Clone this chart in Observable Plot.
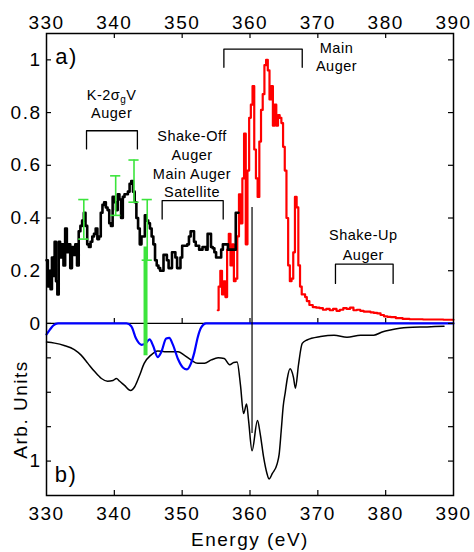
<!DOCTYPE html>
<html><head><meta charset="utf-8">
<script src="https://cdn.jsdelivr.net/npm/d3@7"></script>
<script src="https://cdn.jsdelivr.net/npm/@observablehq/plot@0.6"></script>
<style>
body{margin:0;background:#fff;}
#chart svg{display:block}
g.ann{letter-spacing:0.5px}
</style></head><body><div id="chart"></div>
<script>
// ---- data ----
// panel a) black step spectrum: [energy eV, intensity]
const augerBlack = [[330.0,0.24],[330.2,0.14],[330.4,0.20],[330.6,0.13],[330.8,0.25],[331.0,0.18],[331.2,0.31],[331.4,0.16],[331.6,0.11],[331.8,0.31],[332.0,0.25],[332.25,0.30],[332.5,0.22],[332.75,0.36],[333.0,0.27],[333.25,0.30],[333.5,0.21],[333.75,0.29],[334.0,0.26],[334.25,0.30],[334.5,0.22],[334.75,0.35],[335.0,0.37],[335.25,0.39],[335.5,0.42],[335.75,0.37],[336.0,0.30],[336.25,0.29],[336.5,0.31],[336.75,0.33],[337.0,0.34],[337.25,0.36],[337.5,0.32],[337.75,0.33],[338.0,0.42],[338.25,0.45],[338.5,0.46],[338.75,0.44],[339.0,0.43],[339.25,0.38],[339.5,0.37],[339.75,0.48],[340.0,0.46],[340.25,0.43],[340.5,0.49],[340.75,0.47],[341.0,0.40],[341.25,0.48],[341.5,0.49],[341.75,0.49],[342.0,0.50],[342.25,0.53],[342.5,0.54],[342.75,0.50],[343.0,0.46],[343.25,0.40],[343.5,0.36],[343.75,0.30],[344.0,0.33],[344.25,0.33],[344.5,0.41],[344.75,0.39],[345.0,0.38],[345.25,0.36],[345.5,0.33],[345.75,0.30],[346.0,0.24],[346.25,0.22],[346.5,0.21],[346.75,0.20],[347.0,0.20],[347.25,0.26],[347.5,0.26],[347.75,0.24],[348.0,0.21],[348.25,0.21],[348.5,0.27],[348.75,0.27],[349.0,0.25],[349.25,0.21],[349.5,0.21],[349.75,0.25],[350.0,0.295],[350.5,0.295],[350.75,0.30],[351.0,0.33],[351.25,0.35],[351.5,0.35],[351.75,0.31],[352.0,0.295],[352.5,0.28],[353.0,0.29],[353.5,0.28],[353.75,0.34],[354.0,0.34],[354.25,0.29],[354.5,0.285],[354.75,0.27],[355.0,0.25],[355.5,0.25],[355.75,0.28],[356.0,0.30],[356.5,0.30],[356.75,0.28],[357.0,0.28],[357.5,0.28],[357.9,0.42],[358.3,0.42]];

// panel a) red main Auger spectrum
const augerRed = [[355.25,0.05],[355.5,0.14],[355.75,0.20],[356.0,0.11],[356.25,0.16],[356.5,0.10],[356.75,0.28],[357.0,0.34],[357.25,0.22],[357.5,0.30],[357.75,0.16],[358.0,0.17],[358.25,0.33],[358.5,0.49],[358.75,0.38],[359.0,0.55],[359.25,0.72],[359.5,0.30],[359.75,0.58],[360.0,0.78],[360.25,0.83],[360.5,0.90],[360.75,0.66],[361.0,0.55],[361.25,0.48],[361.5,0.69],[361.75,0.81],[362.0,0.87],[362.25,0.98],[362.5,1.00],[362.75,0.96],[363.0,0.85],[363.25,0.90],[363.5,0.75],[363.75,0.83],[364.0,0.75],[364.25,0.79],[364.5,0.78],[364.75,0.76],[365.0,0.67],[365.25,0.58],[365.5,0.40],[365.75,0.22],[366.0,0.16],[366.25,0.17],[366.5,0.27],[366.75,0.48],[367.0,0.44],[367.25,0.22],[367.5,0.14],[367.75,0.11],[368.0,0.11],[368.25,0.10],[368.5,0.085],[369.0,0.07],[369.5,0.062],[370.0,0.06],[370.5,0.058],[371.0,0.052],[371.5,0.055],[372.0,0.05],[372.5,0.055],[373.0,0.048],[373.5,0.052],[374.0,0.058],[374.5,0.055],[375.0,0.06],[375.5,0.05],[376.0,0.052],[376.5,0.048],[377.0,0.045],[377.5,0.045],[378.0,0.042],[378.5,0.04],[379.0,0.038],[379.5,0.032],[380.0,0.027],[380.5,0.025],[381.0,0.024],[382.0,0.02],[383.0,0.017],[384.0,0.016],[385.0,0.016],[386.0,0.015],[387.0,0.015],[388.0,0.015],[389.0,0.014],[390.0,0.014]];

// panel b) black spectrum (arb. units, drawn downward)
const spectrumB = [[330.0,0.135],[331.2,0.143],[332.6,0.16],[334.1,0.19],[335.1,0.23],[336.1,0.29],[337.1,0.35],[338.1,0.40],[339.0,0.42],[339.8,0.415],[340.3,0.40],[340.8,0.42],[341.5,0.45],[342.4,0.487],[343.0,0.46],[343.7,0.38],[344.4,0.29],[345.4,0.23],[346.4,0.20],[347.4,0.205],[348.4,0.205],[349.4,0.205],[350.3,0.23],[351.3,0.265],[352.3,0.29],[353.3,0.29],[354.3,0.265],[355.3,0.25],[356.2,0.255],[357.0,0.30],[357.6,0.283],[358.1,0.28],[358.6,0.45],[359.05,0.655],[359.5,0.585],[359.8,0.71],[360.3,0.925],[361.1,0.705],[361.5,0.80],[362.0,0.97],[362.5,1.09],[362.8,1.13],[363.3,1.09],[364.0,1.02],[364.3,0.95],[364.6,0.78],[364.9,0.6],[365.2,0.5],[365.5,0.4],[365.9,0.33],[366.4,0.39],[366.7,0.47],[367.15,0.30],[367.7,0.145],[368.4,0.12],[370.4,0.095],[372.4,0.085],[374.3,0.10],[376.3,0.085],[378.25,0.085],[379.6,0.06],[380.7,0.048],[383.2,0.03],[386.1,0.025],[388.6,0.02]];

// panel b) blue calculated curve (arb. units, drawn downward)
const calcBlue = [[330.0,0.08],[330.5,0.045],[331.0,0.015],[331.7,0.0],[341.8,0.0],[342.5,0.02],[343.2,0.11],[344.0,0.155],[344.5,0.15],[345.2,0.116],[345.7,0.16],[346.4,0.245],[346.9,0.21],[347.65,0.11],[348.1,0.105],[348.6,0.15],[349.4,0.26],[350.1,0.32],[350.7,0.334],[351.3,0.29],[351.8,0.21],[352.3,0.10],[352.8,0.03],[353.5,0.0],[390.0,0.0]];

// error bars on black spectrum
const errX  = [335.5, 340.2, 342.9, 344.85];
const errLo = [0.32, 0.41, 0.46, 0.24];
const errHi = [0.47, 0.56, 0.62, 0.47];

// green stick (top value in panel a, depth in panel b) and thin marker line
const stick  = [{x: 344.6, top: 0.29, depth: 0.235}];
const marker = [{x: 360.3, top: 0.44, depth: 0.8}];

// annotation brackets
const brackets = [
  {x1: 335.9, x2: 343.4, top: 0.731, leg: 0.662},
  {x1: 347.05, x2: 356.05, top: 0.466, leg: 0.396},
  {x1: 356.15, x2: 367.7, top: 1.041, leg: 0.972},
  {x1: 372.6, x2: 381.1, top: 0.225, leg: 0.152}
];
const annotations = [
  {x: 339.6, y: 0.849, text: "K-2σgV"},
  {x: 339.6, y: 0.781, text: "Auger"},
  {x: 351.45, y: 0.693, text: "Shake-Off"},
  {x: 351.45, y: 0.62, text: "Auger"},
  {x: 351.45, y: 0.549, text: "Main Auger"},
  {x: 351.45, y: 0.478, text: "Satellite"},
  {x: 372.75, y: 1.027, text: "Main"},
  {x: 372.75, y: 0.956, text: "Auger"},
  {x: 376.7, y: 0.318, text: "Shake-Up"},
  {x: 376.7, y: 0.241, text: "Auger"}
];
const panelLabels = [{x: 331.3, panel: "a", v: 0.986, text: "a)"}, {x: 331.2, panel: "b", v: 1.15, text: "b)"}];

// ticks
const xTicks = [330, 340, 350, 360, 370, 380, 390];
const xInner = [340, 350, 360, 370, 380];
const yTopTicks = [0, 0.2, 0.4, 0.6, 0.8, 1];
const yBottomTicks = [0.25, 0.5, 0.75, 1];
const yBottomLabels = [1];
const xMin = 330, xMax = 390, topMax = 1.1, bottomMax = 1.25;

// ---- chart ----
// panel b) is drawn downward below zero, at a smaller vertical scale than panel a)
const kB = 137.6 / 263.5;
const yb = v => -v * kB;
const green = "#3ce43c";
const F = "'Liberation Sans', Arial, Helvetica, sans-serif";
const allY = [...yTopTicks, ...yBottomTicks.map(yb)];
const labelY = [...yTopTicks, ...yBottomLabels.map(yb)];
const fmtY = d => d < 0 ? String(Math.round(-d / kB * 100) / 100) : String(d);
const bracketPaths = brackets.map(b => [[b.x1, b.leg], [b.x1, b.top], [b.x2, b.top], [b.x2, b.leg]]);
const T = 5; // inward tick length (px)
const tk = {stroke: "#000", strokeWidth: 1.2};

const chart = Plot.plot({
  width: 474, height: 552,
  marginLeft: 46, marginRight: 21, marginTop: 33, marginBottom: 57,
  x: {domain: [xMin, xMax]},
  y: {domain: [yb(bottomMax), topMax]},
  style: {fontFamily: F, fontSize: "19px", letterSpacing: "1.5px", background: "#fff", color: "#000", overflow: "visible"},
  marks: [
    Plot.ruleY([0], {stroke: "#000", strokeWidth: 1.2}),
    Plot.ruleX(xInner, {x: d => d, y1: 0, y2: 0, insetTop: -T, ...tk}),
    Plot.line(spectrumB, {x: d => d[0], y: d => yb(d[1]), curve: "monotone-x", stroke: "#000", strokeWidth: 1.5}),
    Plot.line(calcBlue, {x: d => d[0], y: d => yb(d[1]), curve: "monotone-x", stroke: "#0000ff", strokeWidth: 2.2}),
    Plot.line(augerRed, {x: d => d[0], y: d => d[1], curve: "step", stroke: "#ff0000", strokeWidth: 2.2}),
    Plot.line(augerBlack, {x: d => d[0], y: d => d[1], curve: "step-after", stroke: "#000", strokeWidth: 2.6}),
    Plot.ruleX(errX, {x: d => d, y1: (d, i) => errLo[i], y2: (d, i) => errHi[i], stroke: green, strokeWidth: 1.6}),
    Plot.ruleY(errX, {y: (d, i) => errLo[i], x1: d => d - 0.75, x2: d => d + 0.75, stroke: green, strokeWidth: 1.6}),
    Plot.ruleY(errX, {y: (d, i) => errHi[i], x1: d => d - 0.75, x2: d => d + 0.75, stroke: green, strokeWidth: 1.6}),
    Plot.ruleX(stick, {x: "x", y1: d => d.top, y2: d => yb(d.depth), stroke: green, strokeWidth: 4}),
    Plot.ruleX(marker, {x: "x", y1: d => d.top, y2: d => yb(d.depth), stroke: "#000", strokeWidth: 1.2}),
    ...bracketPaths.map(p => Plot.line(p, {x: d => d[0], y: d => d[1], stroke: "#000", strokeWidth: 1.3})),
    Plot.text(annotations, {x: "x", y: "y", text: "text", lineAnchor: "bottom", textAnchor: "middle", fontSize: 14.5, className: "ann"}),
    Plot.text(panelLabels, {x: "x", y: d => d.panel === "a" ? d.v : yb(d.v), text: "text", lineAnchor: "bottom", textAnchor: "start", fontSize: 22}),
    // inward ticks on all four sides
    Plot.ruleX(xInner, {x: d => d, y1: topMax, y2: topMax, insetBottom: -T, ...tk}),
    Plot.ruleX(xInner, {x: d => d, y1: yb(bottomMax), y2: yb(bottomMax), insetTop: -T, ...tk}),
    Plot.ruleY(allY, {y: d => d, x1: xMin, x2: xMin, insetRight: -T, ...tk}),
    Plot.ruleY(allY, {y: d => d, x1: xMax, x2: xMax, insetLeft: -T, ...tk}),
    Plot.frame({stroke: "#000", strokeWidth: 1.5}),
    // axes: labels
    Plot.axisX({anchor: "top", ticks: xTicks, tickSize: 0, tickPadding: 5, label: null, fontSize: 19}),
    Plot.axisX({anchor: "bottom", ticks: xTicks, tickSize: 0, tickPadding: 11, label: null, fontSize: 19}),
    Plot.axisY({anchor: "left", ticks: labelY, tickSize: 0, tickPadding: 5, label: null, fontSize: 19, tickFormat: fmtY}),
    // axis titles
    Plot.text(["Energy (eV)"], {frameAnchor: "bottom", dy: 50, lineAnchor: "bottom", fontSize: 19}),
    Plot.text(["Arb. Units"], {frameAnchor: "left", y: () => yb(bottomMax / 2), dx: -19.5, rotate: -90, lineAnchor: "bottom", textAnchor: "middle", fontSize: 19})
  ]
});

// subscript g in K-2σgV
d3.select(chart).selectAll("text").filter(function () { return this.textContent === "K-2σgV"; }).each(function () {
  const t = d3.select(this);
  t.text(null);
  t.append("tspan").text("K-2σ");
  t.append("tspan").attr("dy", 3).attr("font-size", 10).text("g");
  t.append("tspan").attr("dy", -3).text("V");
});

document.getElementById("chart").append(chart);
</script></body></html>
